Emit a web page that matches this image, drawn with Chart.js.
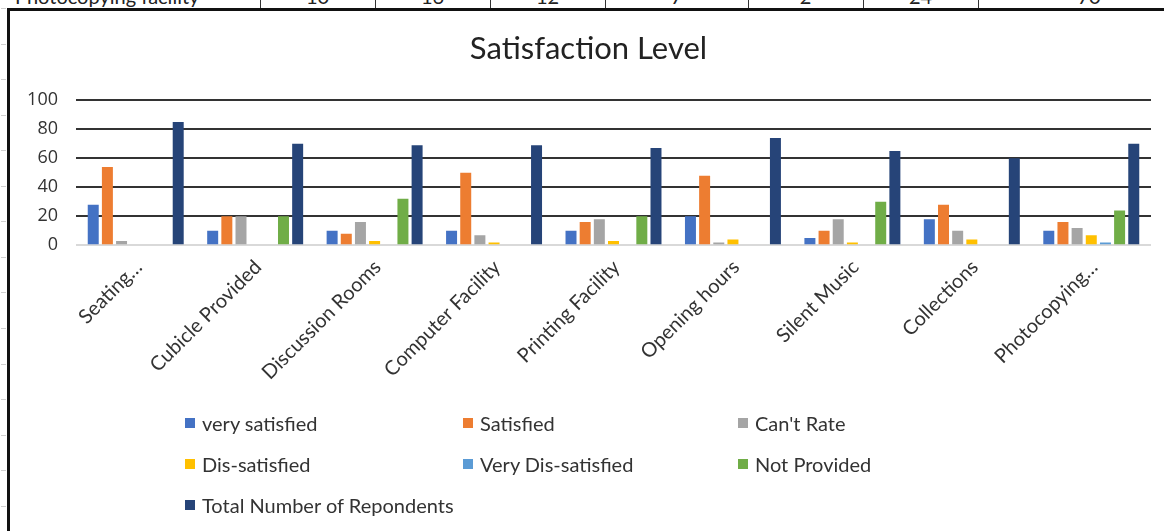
<!DOCTYPE html>
<html>
<head>
<meta charset="utf-8">
<script src="https://cdn.jsdelivr.net/npm/chart.js@4.4.1/dist/chart.umd.min.js"></script>
<style>
  html, body { margin: 0; padding: 0; background: #fff; }
  body { width: 1164px; height: 531px; overflow: hidden; position: relative; font-family: Lato, "Open Sans", sans-serif; color: #333; }
  #sheetRow { position: absolute; left: 0; top: 0; width: 1164px; height: 8px; overflow: hidden; }
  #sheetRow .cell { position: absolute; top: -14px; font-size: 20px; line-height: 20px; white-space: nowrap; color: #222; }
  #sheetRow .vline { position: absolute; top: 0; width: 1px; height: 8px; background: #333; }
  .rowTick { position: absolute; left: 1px; width: 5px; height: 1px; background: #cfcfcf; }
  #frameTop { position: absolute; left: 7px; top: 8px; width: 1157px; height: 3px; background: #111; }
  #frameLeft { position: absolute; left: 7px; top: 8px; width: 3px; height: 523px; background: #111; }
  #wrap { position: absolute; left: 10px; top: 12px; width: 1166px; height: 519px; }
  #legend { position: absolute; left: 0; top: 0; width: 1164px; height: 531px; pointer-events: none; }
  .item { position: absolute; height: 20px; display: flex; align-items: center; font-size: 20px; white-space: nowrap; color: #333; }
  .item .box { width: 10px; height: 10px; margin-right: 7px; flex: none; }
</style>
</head>
<body>
<div id="sheetRow"></div>
<div id="frameTop"></div>
<div id="frameLeft"></div>
<div id="wrap"><canvas id="c" width="1166" height="519"></canvas></div>
<div id="legend"></div>
<script>
// Facilities rated in the survey
const categories = [
  "Seating\u2026", "Cubicle Provided", "Discussion Rooms", "Computer Facility",
  "Printing Facility", "Opening hours", "Silent Music", "Collections", "Photocopying\u2026"
];

// Responses per facility
const verySatisfied    = [28, 10, 10, 10, 10, 20,  5, 18, 10];
const satisfied        = [54, 20,  8, 50, 16, 48, 10, 28, 16];
const cantRate         = [ 3, 20, 16,  7, 18,  2, 18, 10, 12];
const disSatisfied     = [ 0,  0,  3,  2,  3,  4,  2,  4,  7];
const veryDisSatisfied = [ 0,  0,  0,  0,  0,  0,  0,  0,  2];
const notProvided      = [ 0, 20, 32,  0, 20,  0, 30,  0, 24];
const totalRespondents = [85, 70, 69, 69, 67, 74, 65, 60, 70];

const seriesNames = [
  "very satisfied", "Satisfied", "Can't Rate", "Dis-satisfied",
  "Very Dis-satisfied", "Not Provided", "Total Number of Repondents"
];
const seriesValues = [verySatisfied, satisfied, cantRate, disSatisfied, veryDisSatisfied, notProvided, totalRespondents];
const seriesColors = ["#4472C4", "#ED7D31", "#A5A5A5", "#FFC000", "#5B9BD5", "#70AD47", "#264478"];

const yTicks = [0, 20, 40, 60, 80, 100];
const chartTitle = "Satisfaction Level";

// Worksheet row peeking out above the chart object: the last table row
const sheetRow = document.getElementById("sheetRow");
const lastRowLabel = "Photocopying facility";
const colEdges = [260, 375, 490, 605, 748, 863, 978, 1200];
(function buildSheetRow() {
  const label = document.createElement("div");
  label.className = "cell";
  label.style.left = "15px";
  label.textContent = lastRowLabel;
  sheetRow.appendChild(label);
  const last = categories.length - 1;
  seriesValues.forEach((vals, i) => {
    const c = document.createElement("div");
    c.className = "cell";
    const l = colEdges[i], r = colEdges[i + 1];
    c.style.left = l + "px";
    c.style.width = (r - l) + "px";
    c.style.textAlign = "center";
    c.textContent = String(vals[last]);
    sheetRow.appendChild(c);
  });
  colEdges.slice(0, 7).forEach(x => {
    const v = document.createElement("div");
    v.className = "vline";
    v.style.left = x + "px";
    sheetRow.appendChild(v);
  });
  // row separators of the worksheet visible left of the chart
  for (let y = 8; y < 531; y += 35.56) {
    const t = document.createElement("div");
    t.className = "rowTick";
    t.style.top = Math.round(y) + "px";
    document.body.appendChild(t);
  }
})();

const datasets = seriesNames.map((name, i) => ({
  label: name,
  data: seriesValues[i],
  backgroundColor: seriesColors[i],
  borderWidth: 0,
  categoryPercentage: 0.83,
  barPercentage: 0.776
}));

const chart = new Chart(document.getElementById("c"), {
  type: "bar",
  data: { labels: categories, datasets },
  options: {
    responsive: false,
    animation: false,
    events: [],
    layout: { padding: { left: 16, right: 25, top: 0, bottom: 0 } },
    plugins: {
      legend: { display: false },
      tooltip: { enabled: false },
      title: {
        display: true,
        text: chartTitle,
        color: "#222",
        font: { family: "Lato", size: 31, weight: "normal" },
        padding: { top: 18, bottom: 33 }
      }
    },
    scales: {
      x: {
        grid: { display: false, drawTicks: false },
        border: { display: false },
        ticks: {
          autoSkip: false, minRotation: 45, maxRotation: 45,
          padding: 10, labelOffset: 3, color: "#333",
          font: { family: "Lato", size: 20 }
        },
        afterFit(scale) { scale.height = 285.7; }
      },
      y: {
        min: yTicks[0],
        max: yTicks[yTicks.length - 1],
        afterBuildTicks(scale) { scale.ticks = yTicks.map(v => ({ value: v })); },
        ticks: { padding: 18, color: "#333", font: { family: "Open Sans", size: 18 } },
        grid: {
          drawTicks: false,
          lineWidth: 2,
          color: ctx => (ctx.tick && ctx.tick.value === 0 ? "#d9d9d9" : "#333")
        },
        border: { display: false },
        afterFit(scale) { scale.width = 50; }
      }
    }
  }
});

// Legend laid out in three columns under the plot, built from the chart's datasets
const legend = document.getElementById("legend");
const legendCols = [185, 463, 738];
const legendRows = [423, 464, 505];
chart.data.datasets.forEach((ds, i) => {
  const item = document.createElement("div");
  item.className = "item";
  item.style.left = legendCols[i % 3] + "px";
  item.style.top = (legendRows[Math.floor(i / 3)] - 10) + "px";
  const box = document.createElement("span");
  box.className = "box";
  box.style.background = ds.backgroundColor;
  const txt = document.createElement("span");
  txt.textContent = ds.label;
  item.appendChild(box);
  item.appendChild(txt);
  legend.appendChild(item);
});
</script>
</body>
</html>
